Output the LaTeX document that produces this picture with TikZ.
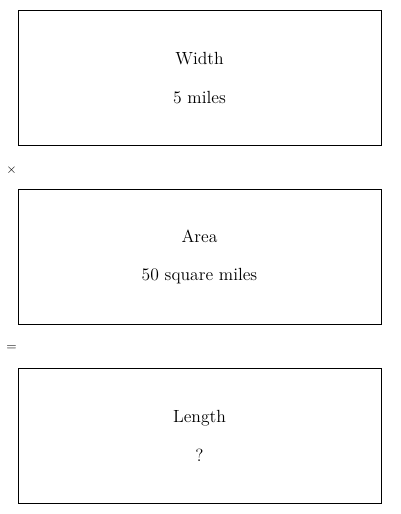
\documentclass[tikz,border=0pt]{standalone}
\usetikzlibrary{positioning,calc}

\begin{document}
\begin{tikzpicture}[x=0.75pt, y=-0.75pt,
    qbox/.style={draw, line width=0.75pt, minimum width=272.25pt, minimum height=101.25pt,
                 inner sep=0pt, align=center, font=\fontsize{13.2}{15.5}\selectfont},
    op/.style={inner sep=0pt, font=\normalsize},
    node distance=32.25pt
  ]
  \useasboundingbox (0,0) rectangle (400,514);
  \node[qbox] (width) at (199.5,78) {Width\\[13.5pt]5 miles};
  \node[qbox, below=of width] (area) {Area\\[13.5pt]50 square miles};
  \node[qbox, below=of area] (length) {Length\\[13.5pt]?};

  \node[op] (times) at ($(width.south west)!0.5!(area.north west)+(-6,3)$) {$\times$};
  \node[op] (equals) at ($(area.south west)!0.5!(length.north west)+(-6,2)$) {$=$};
\end{tikzpicture}
\end{document}
